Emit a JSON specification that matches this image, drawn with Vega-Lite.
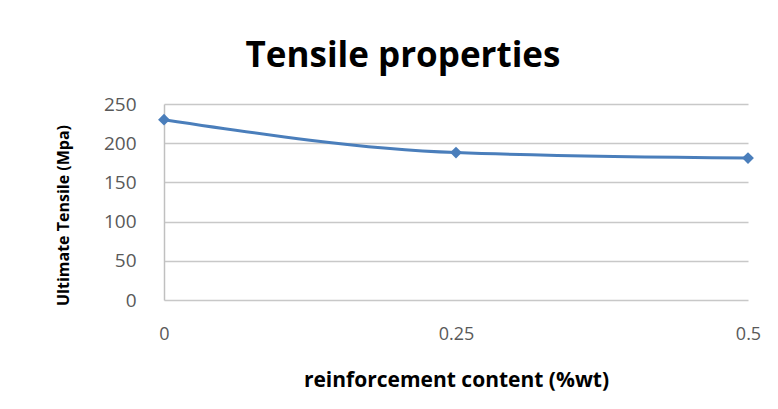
{
  "$schema": "https://vega.github.io/schema/vega-lite/v6.json",
  "autosize": "none",
  "width": 584,
  "height": 196,
  "padding": {"left": 164, "top": 104, "right": 30, "bottom": 109},
  "background": "white",
  "title": {
    "text": "Tensile properties",
    "font": "Open Sans",
    "fontSize": 35,
    "fontWeight": "bold",
    "color": "#000000",
    "anchor": "middle",
    "dx": -53,
    "offset": 21
  },
  "data": {
    "values": [
      {"content": 0, "tensile": 230},
      {"content": 0.25, "tensile": 188},
      {"content": 0.5, "tensile": 181}
    ]
  },
  "encoding": {
    "x": {
      "field": "content",
      "type": "quantitative",
      "scale": {"domain": [0, 0.5], "nice": false, "zero": false},
      "axis": {
        "values": [0, 0.25, 0.5],
        "format": ".2~f",
        "title": "reinforcement content (%wt)",
        "titleFont": "Open Sans",
        "titleFontSize": 21,
        "titleFontWeight": "bold",
        "titleColor": "#000000",
        "titleY": 80,
        "titleBaseline": "middle",
        "labelFont": "Open Sans",
        "labelFontSize": 18,
        "labelColor": "#595959",
        "labelPadding": 34,
        "labelBaseline": "middle",
        "labelFlush": false,
        "labelOverlap": false,
        "tickSize": 0,
        "domain": false,
        "grid": false
      }
    },
    "y": {
      "field": "tensile",
      "type": "quantitative",
      "scale": {"domain": [0, 250], "nice": false},
      "axis": {
        "values": [0, 50, 100, 150, 200, 250],
        "title": "Ultimate Tensile (Mpa)",
        "titleFont": "Open Sans",
        "titleFontSize": 16,
        "titleFontWeight": "bold",
        "titleColor": "#000000",
        "titleAngle": -90,
        "titleX": -101,
        "titleY": 111,
        "titleAlign": "center",
        "titleBaseline": "middle",
        "labelFont": "Open Sans",
        "labelFontSize": 19,
        "labelColor": "#595959",
        "labelPadding": 28,
        "tickSize": 0,
        "domain": true,
        "domainColor": "#c0c0c0",
        "domainWidth": 1.5,
        "grid": true,
        "gridColor": "#c8c8c8",
        "gridWidth": 1.5
      }
    }
  },
  "layer": [
    {
      "mark": {"type": "line", "color": "#4A7EBB", "strokeWidth": 3, "interpolate": "monotone"}
    },
    {
      "mark": {"type": "point", "shape": "diamond", "filled": true, "color": "#4A7EBB", "size": 140, "opacity": 1}
    }
  ],
  "config": {
    "view": {"stroke": null}
  }
}
